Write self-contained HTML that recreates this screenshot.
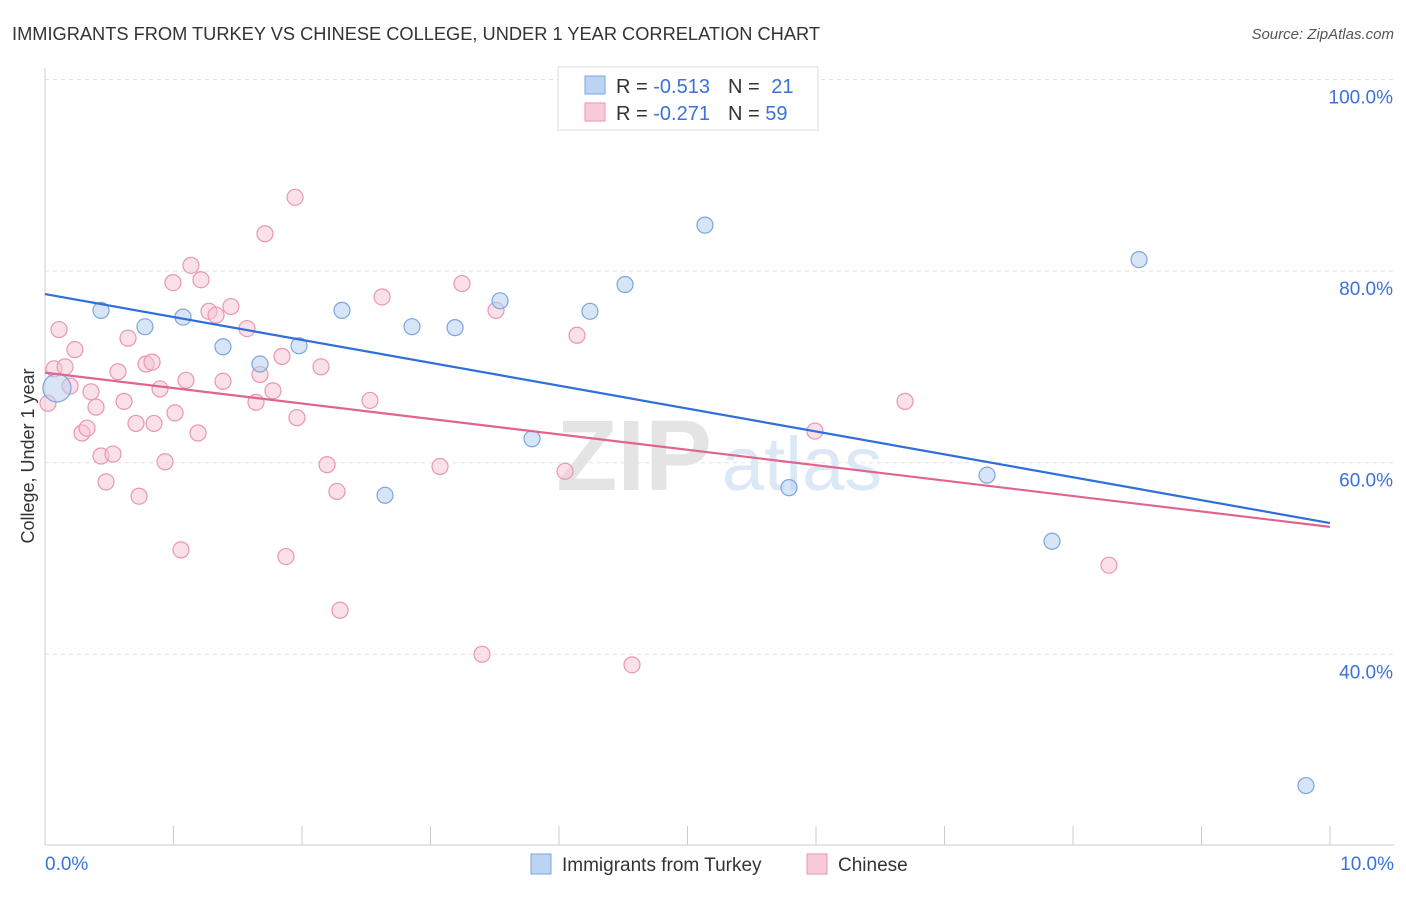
<!DOCTYPE html>
<html><head><meta charset="utf-8">
<style>
body{margin:0;background:#fff;font-family:"Liberation Sans",sans-serif;}
svg text{font-family:"Liberation Sans",sans-serif;}
</style></head><body>
<svg id="chart" width="1406" height="892" xmlns="http://www.w3.org/2000/svg">
<text x="12" y="40" font-size="18" fill="#333" textLength="808" lengthAdjust="spacingAndGlyphs">IMMIGRANTS FROM TURKEY VS CHINESE COLLEGE, UNDER 1 YEAR CORRELATION CHART</text>
<text x="1394" y="39" font-size="15" fill="#555" font-style="italic" text-anchor="end">Source: ZipAtlas.com</text>
<g id="grid"></g>
<g>
<text x="634" y="490" font-size="100" fill="#e4e4e4" font-family="Liberation Serif" text-anchor="middle" font-weight="bold">ZIP</text>
<text x="802" y="490" font-size="76" fill="#dde8f6" text-anchor="middle">atlas</text>
</g>
<g id="axes"></g>
<g id="pink"></g>
<g id="blue"></g>
<g id="lines"></g>
<g>
<rect x="558" y="67" width="260" height="63" fill="#fff" stroke="#ddd"/>
<rect x="585" y="76" width="20" height="18" fill="#bcd4f4" stroke="#7aa6e0"/>
<rect x="585" y="103" width="20" height="18" fill="#f9cad8" stroke="#e996b2"/>
<text x="616" y="93" font-size="20" fill="#333">R = <tspan fill="#3a72d8">-0.513</tspan><tspan dx="18">N = </tspan><tspan fill="#3a72d8" dx="6">21</tspan></text>
<text x="616" y="120" font-size="20" fill="#333">R = <tspan fill="#3a72d8">-0.271</tspan><tspan dx="18">N = </tspan><tspan fill="#3a72d8">59</tspan></text>
</g>
<g>
<rect x="531" y="854" width="20" height="20" fill="#bcd4f4" stroke="#7aa6e0"/>
<text x="562" y="871" font-size="19" fill="#333">Immigrants from Turkey</text>
<rect x="807" y="854" width="20" height="20" fill="#f9cad8" stroke="#e996b2"/>
<text x="838" y="871" font-size="19" fill="#333">Chinese</text>
</g>
<text transform="translate(34,456) rotate(-90)" font-size="18" fill="#333" text-anchor="middle">College, Under 1 year</text>
</svg>
<script>
const turkeyX=[0.093,0.436,0.778,1.074,1.385,1.673,1.977,2.311,2.646,2.856,3.191,3.541,3.790,4.241,4.514,5.136,5.790,7.331,7.837,8.514,9.813];
const turkeyY=[67.8,75.9,74.2,75.2,72.1,70.3,72.2,75.9,56.6,74.2,74.1,76.9,62.5,75.8,78.6,84.8,57.4,58.7,51.8,81.2,26.3];
const chineseX=[0.023,0.070,0.109,0.156,0.195,0.233,0.288,0.327,0.358,0.397,0.436,0.475,0.529,0.568,0.615,0.646,0.708,0.732,0.786,0.833,0.848,0.895,0.934,0.996,1.012,1.058,1.097,1.136,1.191,1.214,1.276,1.331,1.385,1.447,1.572,1.642,1.673,1.712,1.774,1.844,1.875,1.946,1.961,2.148,2.195,2.272,2.296,2.529,2.623,3.074,3.245,3.401,3.510,4.047,4.140,4.568,5.992,6.693,8.280];
const chineseY=[66.2,69.8,73.9,70.0,68.0,71.8,63.1,63.6,67.4,65.8,60.7,58.0,60.9,69.5,66.4,73.0,64.1,56.5,70.3,70.5,64.1,67.7,60.1,78.8,65.2,50.9,68.6,80.6,63.1,79.1,75.8,75.4,68.5,76.3,74.0,66.3,69.2,83.9,67.5,71.1,50.2,87.7,64.7,70.0,59.8,57.0,44.6,66.5,77.3,59.6,78.7,40.0,75.9,59.1,73.3,38.9,63.3,66.4,49.3];
const turkeyTrend=[77.6,53.7];
const chineseTrend=[69.4,53.3];
const yTicks=[100,80,60,40];
const yTickLabels=["100.0%","80.0%","60.0%","40.0%"];
const xTickLabels=["0.0%","10.0%"];
const NS="http://www.w3.org/2000/svg";
const sx=v=>45+v/10*1285;
const sy=v=>79.5+(100-v)/20*191.6;
function mk(tag,attrs,parent){const e=document.createElementNS(NS,tag);for(const k in attrs)e.setAttribute(k,attrs[k]);document.getElementById(parent).appendChild(e);return e;}
yTicks.forEach((t,i)=>{
 const g=mk('line',{x1:45,x2:1394,y1:sy(t),y2:sy(t),stroke:'#e2e2e2','stroke-dasharray':'4,4'},'grid');
 
 
 const l=mk('text',{x:1393,y:sy(t)+24,'font-size':19,fill:'#3a72d8','text-anchor':'end'},'grid');
 l.textContent=yTickLabels[i];
 
 
});
mk('line',{x1:45,x2:45,y1:68,y2:845,stroke:'#ccc'},'axes');
mk('line',{x1:45,x2:1394,y1:845,y2:845,stroke:'#ccc'},'axes');
for(let i=0;i<=10;i++){const t=mk('line',{x1:sx(i),x2:sx(i),y1:826,y2:845,stroke:'#ccc'},'axes');}
const xl0=mk('text',{x:45,y:870,'font-size':19,fill:'#3a72d8'},'axes');xl0.textContent=xTickLabels[0];


const xl1=mk('text',{x:1394,y:870,'font-size':19,fill:'#3a72d8','text-anchor':'end'},'axes');xl1.textContent=xTickLabels[1];


chineseX.forEach((x,i)=>{const c=mk('circle',{cx:sx(x),cy:sy(chineseY[i]),r:8,fill:'#f6c3d3','fill-opacity':0.5,stroke:'#e996b2','stroke-width':1.2},'pink');
 
 });
turkeyX.forEach((x,i)=>{const c=mk('circle',{cx:sx(x),cy:sy(turkeyY[i]),r:i===0?14:8,fill:'#b8d0f0','fill-opacity':0.55,stroke:'#7aa6e0','stroke-width':1.2},'blue');
 
 });
const tl=mk('line',{x1:sx(0),y1:sy(turkeyTrend[0]),x2:sx(10),y2:sy(turkeyTrend[1]),stroke:'#2f6fd8','stroke-width':2.2},'lines');


const cl=mk('line',{x1:sx(0),y1:sy(chineseTrend[0]),x2:sx(10),y2:sy(chineseTrend[1]),stroke:'#e0648e','stroke-width':2.2},'lines');


</script>
</body></html>
